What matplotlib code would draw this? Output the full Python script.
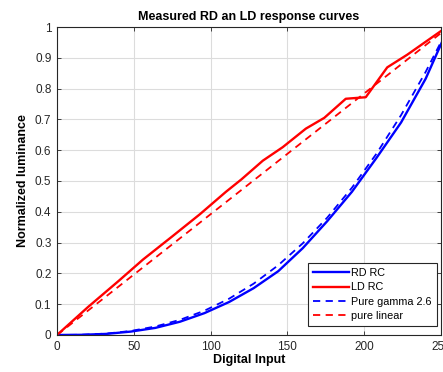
import matplotlib
matplotlib.use("Agg")
import matplotlib.pyplot as plt

plt.rcParams["font.family"] = ["Liberation Sans", "DejaVu Sans"]

ld_x = [0, 20, 40, 56, 75, 93, 110, 120, 134, 147, 162, 174, 188, 201, 215, 228, 250, 255]
ld_y = [0, 0.09, 0.175, 0.245, 0.32, 0.392, 0.465, 0.505, 0.566, 0.61, 0.67, 0.705,
        0.767, 0.772, 0.869, 0.91, 0.987, 1.0]

rd_x = [0, 16, 32, 48, 64, 80, 96, 112, 128, 144, 160, 176, 192, 208, 224, 240, 255]
rd_y = [0, 0.0006, 0.0035, 0.011, 0.023, 0.043, 0.071, 0.107, 0.152, 0.207, 0.282,
        0.37, 0.465, 0.575, 0.69, 0.832, 1.0]

gamma_x = [0, 16, 32, 48, 64, 80, 96, 112, 128, 144, 160, 176, 192, 208, 224, 240, 255]
gamma_y = [0, 0.00075, 0.0045, 0.013, 0.0275, 0.0491, 0.0789, 0.1177, 0.1666, 0.2263,
           0.2977, 0.3814, 0.4781, 0.5888, 0.7138, 0.8542, 1.0]

linear_x = [0, 255]
linear_y = [0, 1]

x_ticks = [0, 50, 100, 150, 200, 250]
y_ticks = [0, 0.1, 0.2, 0.3, 0.4, 0.5, 0.6, 0.7, 0.8, 0.9, 1]

fig = plt.figure(figsize=(4.43, 3.72), dpi=100)
ax = fig.add_axes([0.1287, 0.0995, 0.8668, 0.8279])

ax.plot(rd_x, rd_y, color="#0000ff", lw=1.7, label="RD RC")
ax.plot(ld_x, ld_y, color="#ff0000", lw=1.7, label="LD RC")
ax.plot(gamma_x, gamma_y, color="#0000ff", lw=1.3, ls=(0, (4, 3)), label="Pure gamma 2.6")
ax.plot(linear_x, linear_y, color="#ff0000", lw=1.3, ls=(0, (4, 3)), label="pure linear")

ax.set_xlim(0, 250)
ax.set_ylim(0, 1)
ax.set_xticks(x_ticks)
ax.set_yticks(y_ticks)
ax.set_yticklabels([f"{v:g}" for v in y_ticks])

ax.grid(True, color="#dcdcdc", lw=0.8)
ax.set_axisbelow(True)
for s in ax.spines.values():
    s.set_color("#262626")
    s.set_linewidth(0.8)
ax.tick_params(direction="in", length=3, width=0.6, colors="#262626",
               labelsize=8.5, top=True, right=True, pad=4)

ax.set_title("Measured RD an LD response curves", fontsize=9, fontweight="bold", pad=5)
ax.set_xlabel("Digital Input", fontsize=9, fontweight="bold", labelpad=1)
ax.set_ylabel("Normalized luminance", fontsize=9, fontweight="bold", labelpad=4)

leg = ax.legend(loc="lower right", bbox_to_anchor=(0.99, 0.029), borderaxespad=0,
                fontsize=7.8, handlelength=3.3, handletextpad=0.2, labelspacing=0.38,
                fancybox=False, framealpha=1, edgecolor="#262626", borderpad=0.5)
leg.get_frame().set_linewidth(0.8)

fig.savefig("out.png", dpi=100)
